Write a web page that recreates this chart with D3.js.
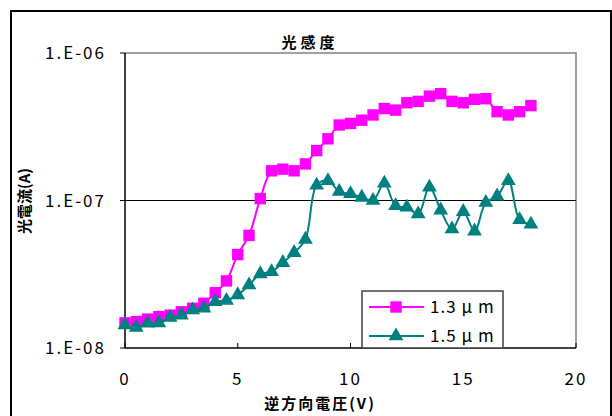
<!DOCTYPE html>
<html>
<head>
<meta charset="utf-8">
<script src="https://cdn.jsdelivr.net/npm/d3@7"></script>
<style>
  body { margin: 0; background: #fff; }
  svg { display: block; }
  text { font-family: "Noto Sans CJK JP", "Liberation Sans", sans-serif; fill: #000; }
</style>
</head>
<body>
<div id="chart-container"></div>
<script>
// Chart data.
const voltage = [0, 0.5, 1, 1.5, 2, 2.5, 3, 3.5, 4, 4.5, 5, 5.5, 6, 6.5, 7, 7.5, 8, 8.5, 9,
    9.5, 10, 10.5, 11, 11.5, 12, 12.5, 13, 13.5, 14, 14.5, 15, 15.5, 16, 16.5, 17, 17.5, 18];
const current13 = [1.48e-8, 1.51e-8, 1.57e-8, 1.63e-8, 1.67e-8, 1.76e-8, 1.86e-8, 2.01e-8, 2.37e-8,
    2.85e-8, 4.3e-8, 5.8e-8, 1.03e-7, 1.59e-7, 1.63e-7, 1.59e-7, 1.77e-7, 2.18e-7, 2.62e-7,
    3.25e-7, 3.33e-7, 3.5e-7, 3.8e-7, 4.2e-7, 4.1e-7, 4.6e-7, 4.7e-7, 5.1e-7, 5.3e-7, 4.7e-7,
    4.6e-7, 4.85e-7, 4.9e-7, 4.0e-7, 3.8e-7, 4.0e-7, 4.4e-7];
const current15 = [1.43e-8, 1.38e-8, 1.47e-8, 1.48e-8, 1.61e-8, 1.67e-8, 1.81e-8, 1.86e-8, 2.06e-8,
    2.1e-8, 2.29e-8, 2.67e-8, 3.18e-8, 3.29e-8, 3.79e-8, 4.43e-8, 5.45e-8, 1.27e-7, 1.36e-7,
    1.15e-7, 1.11e-7, 1.05e-7, 1.0e-7, 1.31e-7, 9.2e-8, 9.0e-8, 8.1e-8, 1.23e-7, 8.6e-8, 6.4e-8,
    8.4e-8, 6.2e-8, 9.7e-8, 1.07e-7, 1.36e-7, 7.4e-8, 6.9e-8];
const seriesNames = ["1.3 μ m", "1.5 μ m"];
const xTicks = [0, 5, 10, 15, 20];
const yTicks = [1e-8, 1e-7, 1e-6];
const yTickLabels = ["1.E-08", "1.E-07", "1.E-06"];

const width = 612, height = 416;
const svg = d3.select("#chart-container")
    .append("svg")
    .attr("width", width)
    .attr("height", height);

// Outer chart border
svg.append("rect")
    .attr("x", 11).attr("y", 11)
    .attr("width", 600).attr("height", 430)
    .attr("fill", "#fff")
    .attr("stroke", "#000")
    .attr("stroke-width", 2);

const plot = { left: 125, right: 576, top: 53, bottom: 348 };

const x = d3.scaleLinear().domain([0, 20]).range([plot.left, plot.right]);
const y = d3.scaleLog().domain([1e-8, 1e-6]).range([plot.bottom, plot.top]);

// Plot area border (top and right in gray)
svg.append("path")
    .attr("d", `M${plot.left},${plot.top}H${plot.right}V${plot.bottom}`)
    .attr("fill", "none")
    .attr("stroke", "#808080")
    .attr("stroke-width", 1.5);

// Gridline at 1e-7
svg.append("line")
    .attr("x1", plot.left).attr("x2", plot.right)
    .attr("y1", y(1e-7)).attr("y2", y(1e-7))
    .attr("stroke", "#000")
    .attr("stroke-width", 1.2);

// Axes
svg.append("line")
    .attr("x1", plot.left).attr("x2", plot.left)
    .attr("y1", plot.top).attr("y2", plot.bottom)
    .attr("stroke", "#000").attr("stroke-width", 1.5);
svg.append("line")
    .attr("x1", plot.left).attr("x2", plot.right)
    .attr("y1", plot.bottom).attr("y2", plot.bottom)
    .attr("stroke", "#000").attr("stroke-width", 1.5);

// x ticks (inside) and labels
svg.selectAll(".xtick")
    .data(xTicks)
    .enter()
    .append("line")
    .attr("x1", (d) => x(d)).attr("x2", (d) => x(d))
    .attr("y1", plot.bottom).attr("y2", plot.bottom - 5)
    .attr("stroke", "#000");
svg.selectAll(".xlabel")
    .data(xTicks)
    .enter()
    .append("text")
    .attr("x", (d) => x(d))
    .attr("y", 385)
    .attr("text-anchor", "middle")
    .style("font-size", "17px")
    .style("letter-spacing", "2px")
    .text((d) => d);

// y ticks (outside) and labels
svg.selectAll(".ytick")
    .data(yTicks)
    .enter()
    .append("line")
    .attr("x1", plot.left - 5).attr("x2", plot.left)
    .attr("y1", (d) => y(d)).attr("y2", (d) => y(d))
    .attr("stroke", "#000");
svg.selectAll(".ylabel")
    .data(yTicks)
    .enter()
    .append("text")
    .attr("x", 106)
    .attr("y", (d) => y(d) + 6)
    .attr("text-anchor", "end")
    .style("font-size", "17px")
    .style("letter-spacing", "2px")
    .text((d, i) => yTickLabels[i]);

// Titles
svg.append("text")
    .attr("x", 310).attr("y", 48)
    .attr("text-anchor", "middle")
    .style("font-size", "15px")
    .style("font-weight", "bold")
    .style("letter-spacing", "4px")
    .text("光感度");
svg.append("text")
    .attr("x", 320).attr("y", 409)
    .attr("text-anchor", "middle")
    .style("font-size", "15px")
    .style("font-weight", "bold")
    .style("letter-spacing", "2px")
    .text("逆方向電圧(V)");
svg.append("text")
    .attr("transform", "translate(30,201) rotate(-90)")
    .attr("text-anchor", "middle")
    .style("font-size", "15px")
    .style("font-weight", "bold")
    .text("光電流(A)");

// Series
const series = [
    { name: seriesNames[0], values: current13, color: "#FF00FF", symbol: d3.symbolSquare, size: 130 },
    { name: seriesNames[1], values: current15, color: "#008080", symbol: d3.symbolTriangle, size: 95 }
];

const line = d3.line()
    .x((d) => x(d[0]))
    .y((d) => y(d[1]))
    .curve(d3.curveCatmullRom.alpha(0.5));

series.forEach((s) => {
    const pts = voltage.map((v, i) => [v, s.values[i]]);
    svg.append("path")
        .datum(pts)
        .attr("fill", "none")
        .attr("stroke", s.color)
        .attr("stroke-width", 2)
        .attr("d", line);
    svg.selectAll(null)
        .data(pts)
        .enter()
        .append("path")
        .attr("transform", (d) => `translate(${x(d[0])},${y(d[1])})`)
        .attr("d", d3.symbol().type(s.symbol).size(s.size))
        .attr("fill", s.color);
});

// Legend
const legend = svg.append("g");
legend.append("rect")
    .attr("x", 362).attr("y", 291)
    .attr("width", 141).attr("height", 57)
    .attr("fill", "#fff")
    .attr("stroke", "#404040")
    .attr("stroke-width", 1.5);
series.forEach((s, i) => {
    const ly = 307 + i * 29;
    legend.append("line")
        .attr("x1", 369).attr("x2", 424)
        .attr("y1", ly).attr("y2", ly)
        .attr("stroke", s.color).attr("stroke-width", 2);
    legend.append("path")
        .attr("transform", `translate(396,${ly})`)
        .attr("d", d3.symbol().type(s.symbol).size(s.size))
        .attr("fill", s.color);
    legend.append("text")
        .attr("x", 430).attr("y", ly + 6)
        .style("font-size", "17px")
        .style("letter-spacing", "1px")
        .text(s.name);
});
</script>
</body>
</html>
